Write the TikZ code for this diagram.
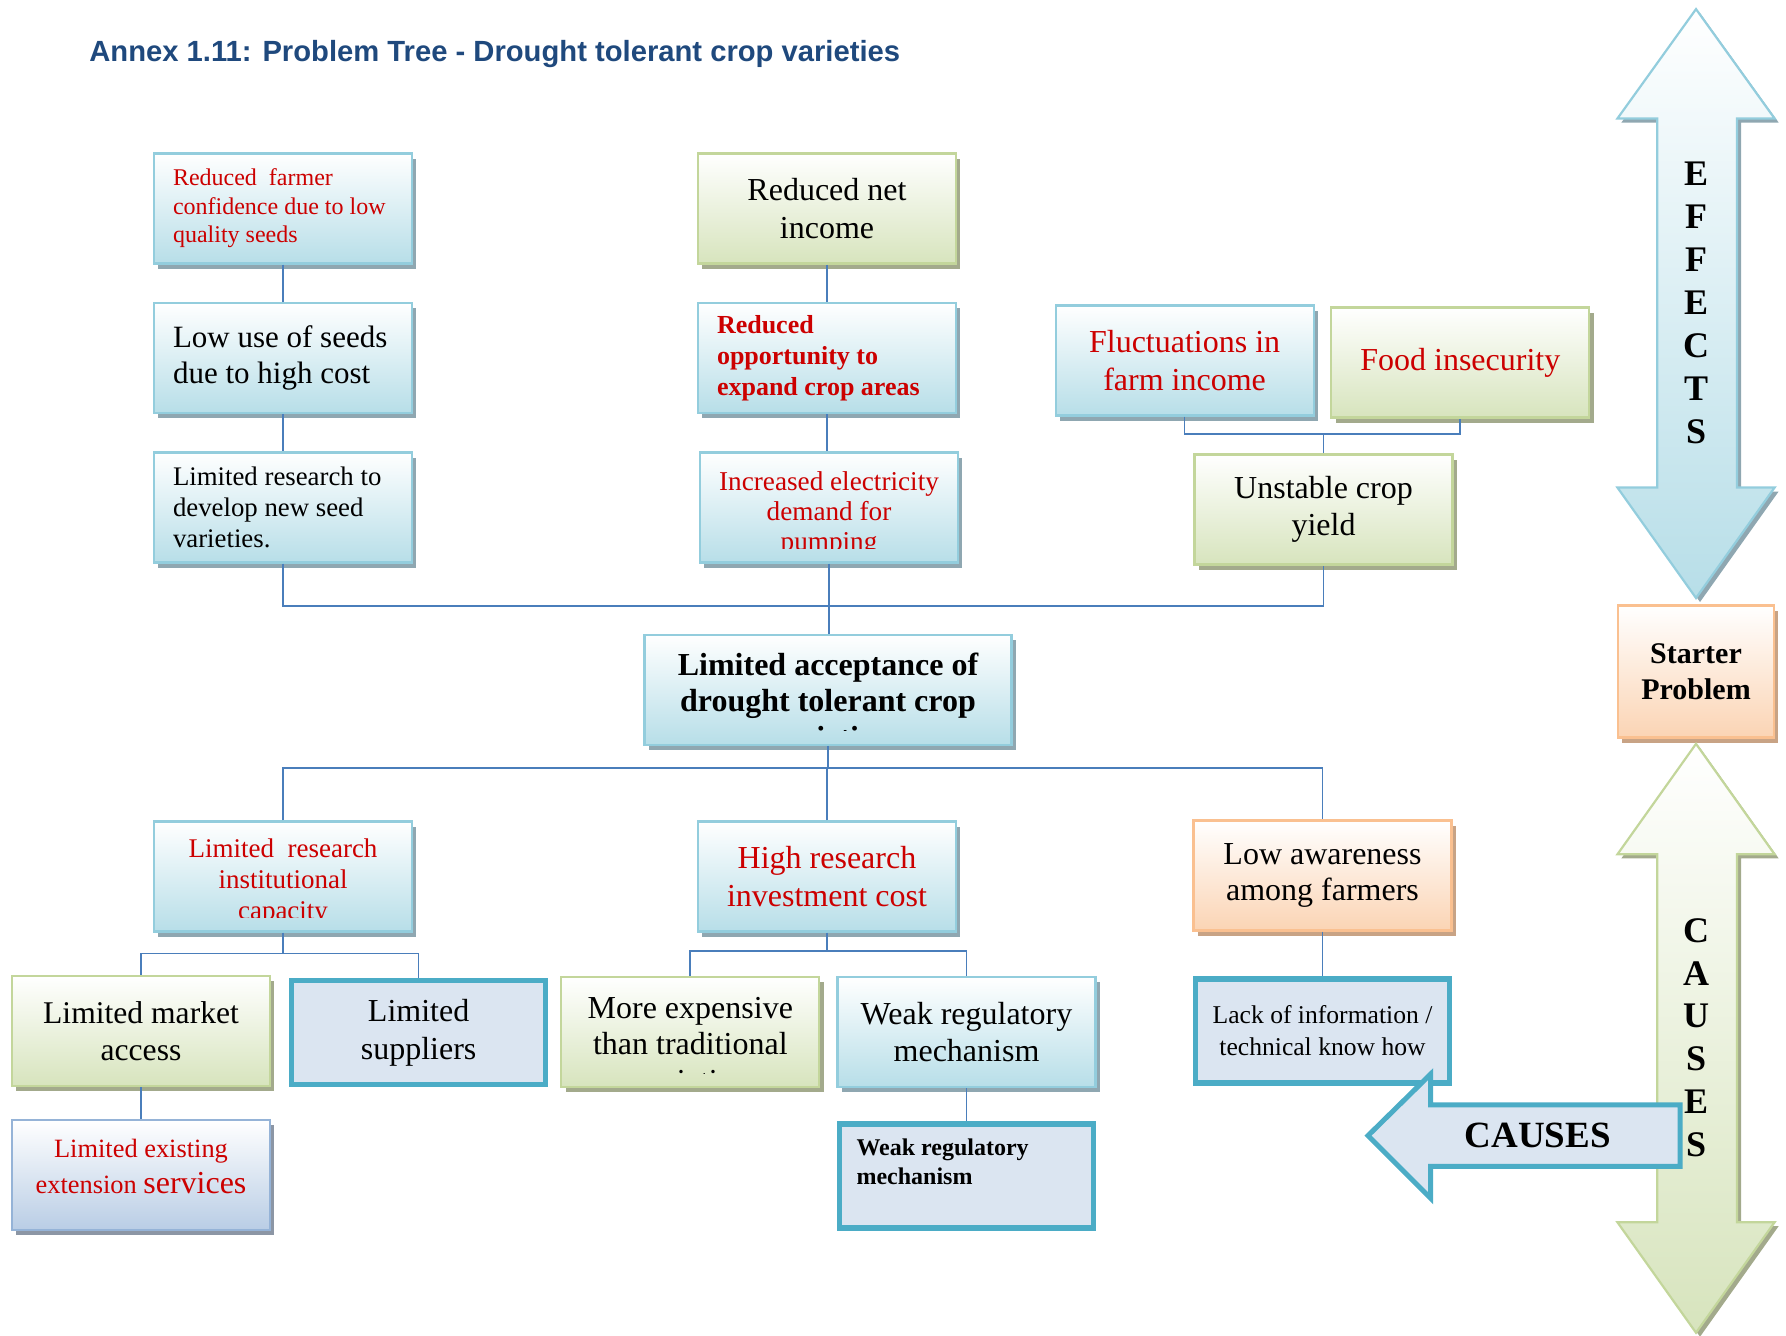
\documentclass[tikz,border=0pt]{standalone}
\usepackage{fontspec}
\setmainfont{Liberation Serif}
\newfontfamily\titlefont{Liberation Sans}
\usetikzlibrary{shadows}
\def\fsz#1#2{\fontsize{#1}{#2}\selectfont}
\newcommand\cutlabel[3]{\clip ([yshift=7pt]path picture bounding box.south west) rectangle (path picture bounding box.north east);
	\node[anchor=north, align=center, inner sep=0pt, #1] at ([yshift=-#2]path picture bounding box.north) {#3};}

\definecolor{ttlblue}{RGB}{31,73,125}
\definecolor{txtred}{RGB}{204,0,0}
\definecolor{linkblue}{RGB}{74,126,187}
\definecolor{bluedge}{RGB}{147,205,221}
\definecolor{blufill}{RGB}{183,222,232}
\definecolor{blushade}{RGB}{143,167,177}
\definecolor{grnedge}{RGB}{195,214,155}
\definecolor{grnfill}{RGB}{215,228,189}
\definecolor{grnshade}{RGB}{163,170,140}
\definecolor{orgedge}{RGB}{250,192,144}
\definecolor{orgfill}{RGB}{251,212,180}
\definecolor{orgshade}{RGB}{200,163,133}
\definecolor{gbedge}{RGB}{149,179,215}
\definecolor{gbfill}{RGB}{185,205,229}
\definecolor{gbshade}{RGB}{140,150,165}
\definecolor{thkedge}{RGB}{75,172,198}
\definecolor{thkfill}{RGB}{219,229,241}

\tikzset{
	box/.style={rectangle, minimum width=129pt, minimum height=55pt, inner sep=0pt, line width=1.1pt, align=center},
	blubox/.style={box, draw=bluedge, top color=white, bottom color=blufill, drop shadow={shadow xshift=2.2pt, shadow yshift=-2.6pt, fill=blushade, opacity=1}},
	grnbox/.style={box, draw=grnedge, top color=white, bottom color=grnfill, drop shadow={shadow xshift=2.2pt, shadow yshift=-2.6pt, fill=grnshade, opacity=1}},
	orgbox/.style={box, draw=orgedge, top color=white, bottom color=orgfill, drop shadow={shadow xshift=2.2pt, shadow yshift=-2.6pt, fill=orgshade, opacity=1}},
	gbbox/.style={box, draw=gbedge, top color=white, bottom color=gbfill, drop shadow={shadow xshift=2.2pt, shadow yshift=-2.6pt, fill=gbshade, opacity=1}},
	thkbox/.style={box, minimum width=127pt, minimum height=52pt, draw=thkedge, fill=thkfill, line width=2.8pt},
	lefttxt/.style={text width=110pt, align=flush left},
	link/.style={draw=linkblue, line width=0.85pt},
	blubig/.style={draw=bluedge, line width=1.1pt, top color=white, bottom color=blufill, drop shadow={shadow xshift=2pt, shadow yshift=-2pt, fill=blushade, opacity=1}},
	grnbig/.style={draw=grnedge, line width=1.1pt, top color=white, bottom color=grnfill, drop shadow={shadow xshift=2pt, shadow yshift=-2pt, fill=grnshade, opacity=1}}
}

\begin{document}
\begin{tikzpicture}[x=0.5pt, y=-0.5pt]
	\useasboundingbox (0,0) rectangle (1786,1335);
	
	\node[anchor=west, inner sep=0pt, font=\titlefont\bfseries\fsz{14.6}{17}, text=ttlblue] (ttl) at (89,54.5) {Annex 1.11: Problem Tree - Drought tolerant crop varieties};
	
	%%%%% EFFECTS %%%%%
	\node[blubox, lefttxt, text=txtred, font=\fsz{12}{14.2}] (rf) at (283,208.5) {Reduced\ \ farmer\\confidence due to low\\quality seeds};
	\node[blubox, lefttxt, font=\fsz{15.5}{18.2}] (lu) at (283,358) {Low use of seeds\\due to high cost};
	\node[blubox, lefttxt, font=\fsz{13.4}{15.4}] (lr) at (283,507.5) {Limited research to\\develop new seed\\varieties.};
	
	\node[grnbox, font=\fsz{16}{18.8}] (rn) at (827,208.5) {Reduced net\\income};
	\node[blubox, lefttxt, text=txtred, font=\bfseries\fsz{13}{15.4}] (ro) at (827,358) {Reduced\\opportunity to\\expand crop areas};
	\node[blubox, path picture={\cutlabel{text=txtred, font=\fsz{13.6}{15.1}}{2.6pt}{Increased electricity\\demand for\\pumping}}] (ie) at (829,507.5) {};
	
	\node[blubox, text=txtred, font=\fsz{16}{18.8}] (fl) at (1184.6,360.5) {Fluctuations in\\farm income};
	\node[grnbox, text=txtred, font=\fsz{16}{18.8}] (fi) at (1460.3,362.5) {Food insecurity};
	\node[grnbox, font=\fsz{16}{18.8}] (uy) at (1323.5,509.5) {Unstable crop\\yield};
	
	%%%%% STARTER %%%%%
	\node[blubox, minimum width=183.5pt, path picture={\cutlabel{font=\bfseries\fsz{16}{18.2}}{5pt}{Limited acceptance of\\drought tolerant crop\\varieties}}] (core) at (828,689.7) {};
	
	%%%%% CAUSES %%%%%
	\node[blubox, path picture={\cutlabel{text=txtred, font=\fsz{13.5}{15.4}}{2.3pt}{Limited\ \ research\\institutional\\capacity}}] (ri) at (283,876.5) {};
	\node[blubox, text=txtred, font=\fsz{16}{19.4}] (hr) at (827,876.5) {High research\\investment cost};
	\node[orgbox, font=\fsz{16}{18.2}] (la) at (1322.5,875.5) {Low awareness\\among farmers};
	
	\node[grnbox, font=\fsz{15.8}{18.8}] (lm) at (141,1031) {Limited market\\access};
	\node[thkbox, font=\fsz{16}{18.8}] (ls) at (418.6,1032.5) {Limited\\suppliers};
	\node[grnbox, path picture={\cutlabel{font=\fsz{16}{18.2}}{5.6pt}{More expensive\\than traditional\\varieties}}] (me) at (690.3,1032) {};
	\node[blubox, font=\fsz{16}{18.8}] (wr) at (966.5,1032) {Weak regulatory\\mechanism};
	\node[thkbox, font=\fsz{12.8}{16}] (li) at (1322.5,1031) {Lack of information /\\technical know how};
	
	\node[gbbox, text=txtred, font=\fsz{13.2}{17.7}] (es) at (141,1175) {Limited existing\\extension {\fsz{16}{17.7}services}\\[-9pt]\mbox{}};
	\node[thkbox, lefttxt, font=\bfseries\fsz{12}{14.2}] (wb) at (966.5,1176) {Weak regulatory\\mechanism\\~};
	
	%%%%% LINKS %%%%%
	\coordinate (fbar) at (0,434);
	\coordinate (topbar) at (0,606);
	\coordinate (botbar) at (0,767.7);
	\coordinate (abar) at (0,953.4);
	\coordinate (bbar) at (0,951.1);
	
	\draw[link] (rf) -- (lu);
	\draw[link] (lu) -- (lr);
	\draw[link] (rn) -- (ro);
	\draw[link] (ro.south) -- (ro.south |- ie.north);
	\draw[link] (ie.south) -- (ie.south |- core.north);
	\draw[link] (fl.south) -- (fl.south |- fbar) -| (fi.south);
	\draw[link] (uy.north) -- (uy.north |- fbar);
	\draw[link] (lr.south) -- (lr.south |- topbar) -| (uy.south);
	
	\draw[link] (core.south) -- (core.south |- botbar);
	\draw[link] (ri.north) -- (ri.north |- botbar) -| (la.north);
	\draw[link] (hr.north) -- (hr.north |- botbar);
	\draw[link] (ri.south) -- (ri.south |- abar);
	\draw[link] (lm.north) -- (lm.north |- abar) -| (ls.north);
	\draw[link] (hr.south) -- (hr.south |- bbar);
	\draw[link] (me.north) -- (me.north |- bbar) -| (wr.north);
	\draw[link] (la) -- (li);
	\draw[link] (lm) -- (es);
	\draw[link] (wr) -- (wb);
	
	%%%%% SIDE ARROWS %%%%%
	\path[blubig] (1696,9.1) -- (1774.6,118.5) -- (1737,118.5) -- (1737,487.5) -- (1774.6,487.5) -- (1696,598) -- (1617.4,487.5) -- (1657.3,487.5) -- (1657.3,118.5) -- (1617.4,118.5) -- cycle;
	\node[orgbox, minimum width=78pt, minimum height=66pt, font=\bfseries\fsz{15}{17.7}] (sp) at (1696,671.5) {Starter\\Problem};
	\path[grnbig] (1696,743.8) -- (1774.6,854.3) -- (1737,854.3) -- (1737,1222.2) -- (1774.6,1222.2) -- (1696,1332.7) -- (1617.4,1222.2) -- (1657.3,1222.2) -- (1657.3,854.3) -- (1617.4,854.3) -- cycle;
	\path[fill=thkfill, draw=thkedge, line width=2.5pt] (1368,1135.6) -- (1430.6,1074.1) -- (1430.6,1104.9) -- (1680,1104.9) -- (1680,1166.4) -- (1430.6,1166.4) -- (1430.6,1198.2) -- cycle;
	
	\node[font=\bfseries\fsz{18}{21.5}, align=center] (eff) at (1696,303) {E\\F\\F\\E\\C\\T\\S};
	\node[font=\bfseries\fsz{18}{21.4}, align=center] (cau) at (1696,1037.6) {C\\A\\U\\S\\E\\S};
	\node[font=\bfseries\fsz{18.5}{20}] (cs) at (1537.7,1135.6) {CAUSES};
\end{tikzpicture}
\end{document}
